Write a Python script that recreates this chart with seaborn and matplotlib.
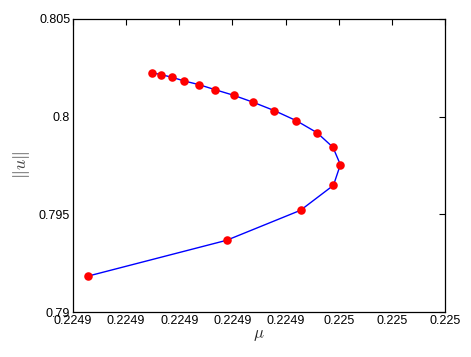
import matplotlib
matplotlib.use("Agg")
import matplotlib.pyplot as plt
import seaborn as sns
import pandas as pd

mu = [0.2249148, 0.2249166, 0.2249186, 0.2249209, 0.2249237, 0.2249267,
      0.2249302, 0.2249339, 0.2249379, 0.2249420, 0.2249459, 0.2249489,
      0.2249503, 0.2249490, 0.2249428, 0.2249289, 0.2249029]
norm_u = [0.802251, 0.802148, 0.802015, 0.801826, 0.801637, 0.801381,
          0.801094, 0.800735, 0.800305, 0.799794, 0.799179, 0.798432,
          0.797541, 0.796486, 0.795206, 0.793671, 0.791843]
x_ticks = [0.22490, 0.22491, 0.22492, 0.22493, 0.22494, 0.22495, 0.22496, 0.22497]
x_tick_labels = ["0.2249", "0.2249", "0.2249", "0.2249", "0.2249", "0.225", "0.225", "0.225"]
y_ticks = [0.79, 0.795, 0.8, 0.805]
y_tick_labels = ["0.79", "0.795", "0.8", "0.805"]

df = pd.DataFrame({"mu": mu, "u": norm_u})

sns.set_style("white")
plt.rcParams['font.family'] = ['Liberation Sans', 'DejaVu Sans']
plt.rcParams['mathtext.fontset'] = 'cm'

fig = plt.figure(figsize=(4.71, 3.57), dpi=100)
ax = fig.add_axes([0.155, 0.126, 0.79, 0.821])

sns.lineplot(data=df, x="mu", y="u", sort=False, estimator=None, color="#0000ff",
             linewidth=1.0, ax=ax)
sns.scatterplot(data=df, x="mu", y="u", color="#ff0000", s=38, edgecolor="#ff0000",
                linewidth=0, ax=ax, zorder=3)

ax.set_xlim(x_ticks[0], x_ticks[-1])
ax.set_ylim(y_ticks[0], y_ticks[-1])
ax.set_xticks(x_ticks)
ax.set_xticklabels(x_tick_labels)
ax.set_yticks(y_ticks)
ax.set_yticklabels(y_tick_labels)
ax.tick_params(direction="in", top=True, right=True, length=4, width=0.8,
               labelsize=9, pad=2, colors="black")
for s in ax.spines.values():
    s.set_color("black")
    s.set_linewidth(0.9)
ax.set_xlabel(r"$\mu$", fontsize=12, labelpad=1)
ax.set_ylabel(r"$\|u\|$", fontsize=13, labelpad=5, color="#444444")

fig.savefig("out.png", dpi=100)
